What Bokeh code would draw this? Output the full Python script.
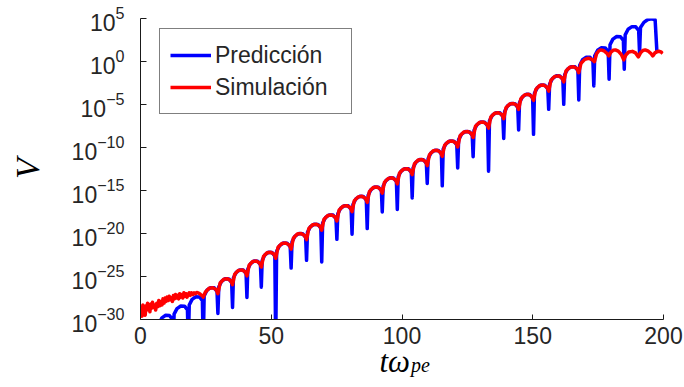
import numpy as np
from bokeh.plotting import figure
from bokeh.models import (Range1d, FixedTicker, Label, Legend, LegendItem,
                          LogTickFormatter)
from bokeh.embed import file_html
from bokeh.resources import INLINE

# ---- data: time (t*omega_pe) and log10(V) ----
pred_t = [
    0.0, 1.0,
    1.35, 2.44, 3.88, 5.31, 6.41, 6.75,
    7.10, 8.19, 9.63, 11.06, 12.16, 12.5,
    12.85, 13.95, 15.4, 16.85, 17.95, 18.3,
    18.64, 19.73, 21.15, 22.58, 23.66, 24.0,
    24.34, 25.4, 26.8, 28.2, 29.26, 29.6,
    29.94, 31.0, 32.4, 33.8, 34.86, 35.2,
    35.53, 36.58, 37.95, 39.33, 40.37, 40.7,
    41.03, 42.08, 43.45, 44.83, 45.87, 46.2,
    46.53, 47.58, 48.95, 50.33, 51.37, 51.7,
    52.05, 53.18, 54.65, 56.13, 57.25, 57.6,
    57.95, 59.08, 60.55, 62.03, 63.15, 63.5,
    63.85, 64.95, 66.4, 67.85, 68.95, 69.3,
    69.65, 70.75, 72.2, 73.65, 74.75, 75.1,
    75.45, 76.55, 78.0, 79.45, 80.55, 80.9,
    81.25, 82.35, 83.8, 85.25, 86.35, 86.7,
    87.05, 88.14, 89.58, 91.01, 92.11, 92.45,
    92.8, 93.89, 95.33, 96.76, 97.86, 98.2,
    98.54, 99.63, 101.05, 102.48, 103.56, 103.9,
    104.25, 105.34, 106.78, 108.21, 109.31, 109.65,
    110.0, 111.09, 112.53, 113.96, 115.06, 115.4,
    115.75, 116.88, 118.35, 119.83, 120.95, 121.3,
    121.65, 122.78, 124.25, 125.73, 126.85, 127.2,
    127.55, 128.68, 130.15, 131.63, 132.75, 133.1,
    133.45, 134.55, 136.0, 137.45, 138.55, 138.9,
    139.24, 140.33, 141.75, 143.18, 144.26, 144.6,
    144.94, 146.03, 147.45, 148.88, 149.96, 150.3,
    150.65, 151.75, 153.2, 154.65, 155.75, 156.1,
    156.45, 157.54, 158.98, 160.41, 161.51, 161.85,
    162.2, 163.29, 164.73, 166.16, 167.26, 167.6,
    167.95, 169.04, 170.48, 171.91, 173.01, 173.35,
    173.7, 174.81, 176.28, 177.74, 178.85, 179.2,
    179.55, 180.65, 182.1, 183.55, 184.65, 185.0,
    185.35, 186.46, 187.93, 189.39, 190.5, 190.85,
    191.2, 192.5, 194.0, 195.5, 196.8, 197.5,
]
pred_logv = [
    -31.6, -33.0,
    -31.53, -30.88, -30.58, -30.60, -31.03, -33.0,
    -30.46, -29.81, -29.51, -29.53, -29.96, -33.0,
    -29.38, -28.73, -28.43, -28.45, -28.88, -33.0,
    -28.31, -27.66, -27.36, -27.38, -27.81, -33.0,
    -27.25, -26.60, -26.30, -26.32, -26.75, -29.30,
    -26.21, -25.56, -25.26, -25.28, -25.71, -28.60,
    -25.18, -24.53, -24.23, -24.25, -24.68, -27.44,
    -24.15, -23.50, -23.20, -23.22, -23.65, -26.24,
    -23.13, -22.48, -22.18, -22.20, -22.63, -33.0,
    -22.06, -21.41, -21.11, -21.13, -21.56, -24.02,
    -20.96, -20.31, -20.01, -20.03, -20.46, -23.12,
    -19.87, -19.22, -18.92, -18.94, -19.37, -23.32,
    -18.79, -18.14, -17.84, -17.86, -18.29, -20.68,
    -17.71, -17.06, -16.76, -16.78, -17.21, -20.09,
    -16.63, -15.98, -15.68, -15.70, -16.13, -19.43,
    -15.55, -14.90, -14.60, -14.62, -15.05, -17.49,
    -14.48, -13.83, -13.53, -13.55, -13.98, -17.21,
    -13.41, -12.76, -12.46, -12.48, -12.91, -15.86,
    -12.35, -11.70, -11.40, -11.42, -11.85, -14.18,
    -11.28, -10.63, -10.33, -10.35, -10.78, -14.46,
    -10.19, -9.54, -9.24, -9.26, -9.69, -12.37,
    -9.09, -8.44, -8.14, -8.16, -8.59, -11.08,
    -7.99, -7.34, -7.04, -7.06, -7.49, -12.75,
    -6.90, -6.25, -5.95, -5.97, -6.40, -8.94,
    -5.83, -5.18, -4.88, -4.90, -5.33, -7.97,
    -4.77, -4.12, -3.82, -3.84, -4.27, -8.47,
    -3.69, -3.04, -2.74, -2.76, -3.19, -5.56,
    -2.62, -1.97, -1.67, -1.69, -2.12, -4.98,
    -1.55, -0.90, -0.60, -0.62, -1.05, -4.48,
    -0.45, 0.20, 0.50, 0.48, 0.05, -2.84,
    0.65, 1.30, 1.60, 1.58, 1.15, -2.06,
    1.95, 2.60, 2.90, 2.88, 2.45, -0.90,
    3.10, 3.75, 4.05, 4.03, 3.60, 0.97,
    3.95, 4.55, 4.88, 4.97, 4.85, 1.0,
]

sim_t = [
    0.0, 0.3, 0.6, 0.9, 1.2, 1.5, 1.8, 2.1, 2.4, 2.7,
    3.0, 3.3, 3.6, 3.9, 4.2, 4.6, 5.0, 5.4, 5.8, 6.2,
    6.6, 7.0, 7.4, 7.8, 8.2, 8.6, 9.0, 9.4, 9.8, 10.2,
    10.6, 11.0, 11.4, 11.8, 12.2, 12.6, 13.0, 13.4, 13.8, 14.2,
    14.6, 15.0, 15.4, 15.8, 16.2, 16.6, 17.0, 17.4, 17.8, 18.2,
    18.6, 19.0, 19.5, 20.0, 20.5, 21.0, 21.5, 22.0, 22.6, 23.2,
    23.7, 24.0,
    24.84, 26.24, 27.64, 28.93, 29.6,
    30.44, 31.84, 33.24, 34.53, 35.2,
    36.03, 37.4, 38.78, 40.04, 40.7,
    41.53, 42.9, 44.28, 45.54, 46.2,
    47.03, 48.4, 49.78, 51.04, 51.7,
    52.59, 54.06, 55.54, 56.89, 57.6,
    58.49, 59.96, 61.44, 62.79, 63.5,
    64.37, 65.82, 67.27, 68.6, 69.3,
    70.17, 71.62, 73.07, 74.4, 75.1,
    75.97, 77.42, 78.87, 80.2, 80.9,
    81.77, 83.22, 84.67, 86.0, 86.7,
    87.56, 89.0, 90.44, 91.76, 92.45,
    93.31, 94.75, 96.19, 97.51, 98.2,
    99.06, 100.48, 101.91, 103.22, 103.9,
    104.76, 106.2, 107.64, 108.96, 109.65,
    110.51, 111.95, 113.39, 114.71, 115.4,
    116.29, 117.76, 119.24, 120.59, 121.3,
    122.19, 123.66, 125.14, 126.49, 127.2,
    128.09, 129.56, 131.04, 132.39, 133.1,
    133.97, 135.42, 136.87, 138.2, 138.9,
    139.76, 141.18, 142.61, 143.92, 144.6,
    145.46, 146.88, 148.31, 149.62, 150.3,
    151.17, 152.62, 154.07, 155.4, 156.1,
    156.96, 158.4, 159.84, 161.16, 161.85,
    162.71, 164.15, 165.59, 166.91, 167.6,
    168.46, 169.9, 171.3, 172.6, 173.6,
    174.4, 175.3, 176.1, 177.2, 178.4, 179.1,
    179.9, 180.7, 181.6, 182.7, 183.9, 184.8,
    185.6, 186.7, 188.1, 189.3, 190.4,
    191.2, 192.1, 193.0, 194.2, 195.3, 195.9,
    196.7, 197.6, 198.4, 199.2, 199.7,
]
sim_logv = [
    -29.8, -29.0, -29.6, -28.3, -29.2, -28.6, -29.5, -28.4, -28.9, -28.1,
    -28.8, -28.5, -29.1, -28.2, -28.7, -28.0, -28.6, -28.3, -28.9, -28.1,
    -28.5, -27.8, -28.4, -27.9, -28.3, -27.6, -28.1, -27.5, -27.9, -27.4,
    -27.8, -27.3, -27.7, -27.5, -27.9, -27.2, -27.6, -27.1, -27.5, -27.2,
    -27.6, -27.0, -27.4, -27.1, -27.5, -26.9, -27.3, -27.0, -27.4, -27.1,
    -26.9, -27.2, -26.9, -27.1, -26.9, -27.0, -26.85, -26.9, -27.0, -27.15,
    -27.25, -27.4,
    -26.80, -26.36, -26.30, -26.52, -27.00,
    -25.76, -25.32, -25.26, -25.48, -25.96,
    -24.73, -24.29, -24.23, -24.45, -24.93,
    -23.70, -23.26, -23.20, -23.42, -23.90,
    -22.68, -22.24, -22.18, -22.40, -22.88,
    -21.61, -21.17, -21.11, -21.33, -21.81,
    -20.51, -20.07, -20.01, -20.23, -20.71,
    -19.42, -18.98, -18.92, -19.14, -19.62,
    -18.34, -17.90, -17.84, -18.06, -18.54,
    -17.26, -16.82, -16.76, -16.98, -17.46,
    -16.18, -15.74, -15.68, -15.90, -16.38,
    -15.10, -14.66, -14.60, -14.82, -15.30,
    -14.03, -13.59, -13.53, -13.75, -14.23,
    -12.96, -12.52, -12.46, -12.68, -13.16,
    -11.90, -11.46, -11.40, -11.62, -12.10,
    -10.83, -10.39, -10.33, -10.55, -11.03,
    -9.74, -9.30, -9.24, -9.46, -9.94,
    -8.64, -8.20, -8.14, -8.36, -8.84,
    -7.54, -7.10, -7.04, -7.26, -7.74,
    -6.45, -6.01, -5.95, -6.17, -6.65,
    -5.38, -4.94, -4.88, -5.10, -5.58,
    -4.32, -3.88, -3.82, -4.04, -4.52,
    -3.24, -2.80, -2.74, -2.96, -3.44,
    -2.17, -1.73, -1.67, -1.89, -2.37,
    -1.10, -0.66, -0.60, -0.82, -1.30,
    -0.20, 0.25, 0.38, 0.25, -0.01,
    0.90, 1.25, 1.35, 1.25, 0.95, 0.65,
    1.10, 1.30, 1.35, 1.20, 0.80, 0.19,
    0.75, 1.10, 1.18, 1.00, 0.54,
    1.00, 1.28, 1.35, 1.20, 0.90, 0.65,
    1.00, 1.15, 1.18, 1.08, 0.94,
]

series_labels = ["Predicción", "Simulación"]
x_ticks = [0, 50, 100, 150, 200]
y_exponents = [-30, -25, -20, -15, -10, -5, 0, 5]

TEXT = "#262626"
SANS = "Liberation Sans"
SERIF = "Liberation Serif"

p = figure(width=684, height=387, output_backend="svg", toolbar_location=None,
           y_axis_type="log", x_range=Range1d(0, 200),
           y_range=Range1d(10.0 ** y_exponents[0], 10.0 ** y_exponents[-1]),
           min_border_left=140, min_border_right=21,
           min_border_top=18, min_border_bottom=68, title=None)
p.outline_line_color = None
p.xgrid.visible = False
p.ygrid.visible = False
p.background_fill_color = "white"
p.border_fill_color = "white"

r_pred = p.line(pred_t, 10.0 ** np.array(pred_logv), line_color="#0000FF",
                line_width=3.5, line_join="round")
r_sim = p.line(sim_t, 10.0 ** np.array(sim_logv), line_color="#FF0000",
               line_width=3.5, line_join="round")

# x axis
xa = p.xaxis[0]
xa.ticker = FixedTicker(ticks=x_ticks, minor_ticks=[])
xa.major_tick_in = 5
xa.major_tick_out = 0
xa.minor_tick_line_color = None
xa.axis_line_color = "#1a1a1a"
xa.major_tick_line_color = "#1a1a1a"
xa.major_label_text_font = SANS
xa.major_label_text_font_size = "23px"
xa.major_label_text_color = TEXT
xa.major_label_standoff = 7

# y axis: decades written as 10 with a raised exponent
ya = p.yaxis[0]
ya.ticker = FixedTicker(ticks=[10.0 ** e for e in y_exponents], minor_ticks=[])
ya.formatter = LogTickFormatter(min_exponent=0)
ya.major_tick_in = 6
ya.major_tick_out = 0
ya.minor_tick_line_color = None
ya.axis_line_color = "#1a1a1a"
ya.major_tick_line_color = "#1a1a1a"
ya.major_label_text_font = SANS
ya.major_label_text_font_size = "23px"
ya.major_label_text_color = TEXT
ya.major_label_standoff = 16

# axis titles, placed in the margins so they are not cut at the frame edge
title_style = dict(text_baseline="alphabetic", text_font=SERIF,
                   text_font_style="italic", text_color="black")
p.add_layout(Label(x=100, y=10.0 ** -30, x_offset=8, y_offset=-42, text="tω",
                   text_align="right", text_font_size="31px", **title_style),
             "left")
p.add_layout(Label(x=100, y=10.0 ** -30, x_offset=9, y_offset=-45, text="pe",
                   text_align="left", text_font_size="20px", **title_style),
             "right")
p.add_layout(Label(x=0, y=10.0 ** -12.46, x_offset=-113, y_offset=0, text="V",
                   angle=np.pi / 2, text_align="center", text_font_size="34px",
                   **title_style), "left")

legend = Legend(items=[LegendItem(label=series_labels[0], renderers=[r_pred]),
                       LegendItem(label=series_labels[1], renderers=[r_sim])],
                location=(19, 205), padding=10, margin=0, spacing=0,
                glyph_width=41, glyph_height=32, label_height=32,
                label_width=126, label_standoff=4,
                label_text_font=SANS, label_text_font_size="23px",
                label_text_color=TEXT, border_line_color="black",
                border_line_width=1, background_fill_color="white",
                background_fill_alpha=1.0)
p.add_layout(legend)

open("out.html", "w").write(file_html(p, INLINE))
